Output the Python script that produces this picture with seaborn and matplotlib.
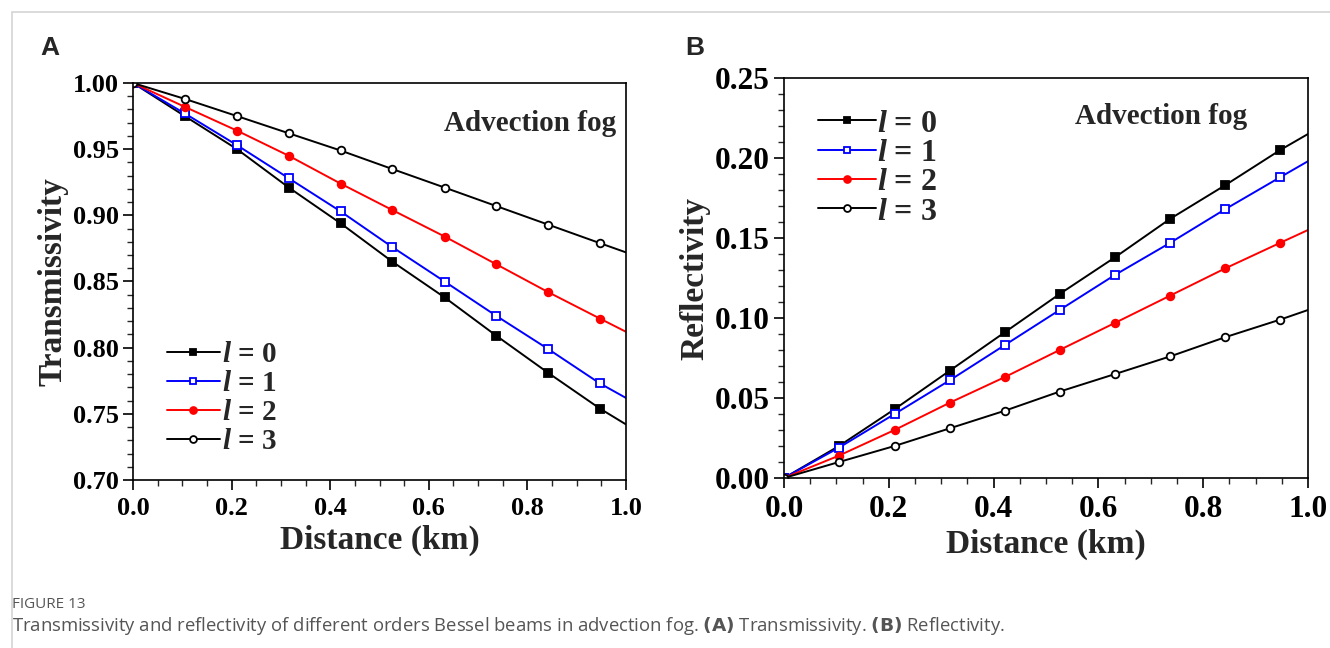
import matplotlib
matplotlib.use("Agg")
import matplotlib.pyplot as plt
from matplotlib.patches import Rectangle
from matplotlib.ticker import MultipleLocator, FormatStrFormatter
from matplotlib import font_manager
import seaborn as sns
import pandas as pd

sns.set_theme(style="white")
plt.rcParams["font.family"] = ["Liberation Serif", "DejaVu Serif"]
plt.rcParams["font.weight"] = "bold"
plt.rcParams["mathtext.fontset"] = "custom"
plt.rcParams["mathtext.it"] = "Liberation Serif:italic:bold"
plt.rcParams["mathtext.rm"] = "Liberation Serif:bold"

# Propagation distance (km); markers on every sample except the end point
distance = [0.0, 0.105, 0.211, 0.316, 0.421, 0.526, 0.632, 0.737, 0.842, 0.947, 1.0]
orders = ["0", "1", "2", "3"]

trans_l0 = [1.000, 0.975, 0.950, 0.921, 0.894, 0.865, 0.838, 0.809, 0.781, 0.754, 0.742]
trans_l1 = [1.000, 0.977, 0.953, 0.928, 0.903, 0.876, 0.850, 0.824, 0.799, 0.773, 0.762]
trans_l2 = [1.000, 0.982, 0.964, 0.945, 0.924, 0.904, 0.884, 0.863, 0.842, 0.822, 0.812]
trans_l3 = [1.000, 0.988, 0.975, 0.962, 0.949, 0.935, 0.921, 0.907, 0.893, 0.879, 0.872]

refl_l0 = [0.000, 0.020, 0.043, 0.067, 0.091, 0.115, 0.138, 0.162, 0.183, 0.205, 0.215]
refl_l1 = [0.000, 0.019, 0.040, 0.061, 0.083, 0.105, 0.127, 0.147, 0.168, 0.188, 0.198]
refl_l2 = [0.000, 0.014, 0.030, 0.047, 0.063, 0.080, 0.097, 0.114, 0.131, 0.147, 0.155]
refl_l3 = [0.000, 0.010, 0.020, 0.031, 0.042, 0.054, 0.065, 0.076, 0.088, 0.099, 0.105]

styles = [
    dict(color="black", marker="s", markerfacecolor="black"),
    dict(color="#0000ff", marker="s", markerfacecolor="white"),
    dict(color="#ff0000", marker="o", markerfacecolor="#ff0000"),
    dict(color="black", marker="o", markerfacecolor="white"),
]

installed = {f.name for f in font_manager.fontManager.ttflist}
caption_family = "Liberation Sans Narrow" if "Liberation Sans Narrow" in installed else "Open Sans"

fig = plt.figure(figsize=(13.3, 6.48), dpi=100)
fig.patch.set_facecolor("white")

# light frame around the figure
fig.patches.append(Rectangle((12 / 1330, -0.1), 1.2, 1.1 - 12 / 648,
                             transform=fig.transFigure, fill=False,
                             edgecolor="#d4d4d4", linewidth=1.2))

axA = fig.add_axes([133 / 1330, 1 - 480 / 648, 493 / 1330, 397 / 648])
axB = fig.add_axes([784 / 1330, 1 - 478 / 648, 524 / 1330, 400 / 648])


def draw_panel(ax, series, ylabel, ylim, ymajor, yfmt, ticksize, legsize, legspace,
               textpad, leg_anchor, text_xy):
    for order, values, st in zip(orders, series, styles):
        df = pd.DataFrame({"Distance": distance, "Value": values})
        sns.lineplot(data=df, x="Distance", y="Value", ax=ax, color=st["color"],
                     marker=st["marker"], markerfacecolor=st["markerfacecolor"],
                     markeredgecolor=st["color"], markeredgewidth=1.3,
                     markersize=5.5, linewidth=1.4, markevery=slice(0, 10),
                     label=rf"$l$ = {order}", sort=False)
    ax.set_xlim(0, 1.0)
    ax.set_ylim(*ylim)
    ax.xaxis.set_major_locator(MultipleLocator(0.2))
    ax.xaxis.set_minor_locator(MultipleLocator(0.05))
    ax.yaxis.set_major_locator(MultipleLocator(ymajor))
    ax.yaxis.set_minor_locator(MultipleLocator(0.01))
    ax.xaxis.set_major_formatter(FormatStrFormatter("%.1f"))
    ax.yaxis.set_major_formatter(FormatStrFormatter(yfmt))
    ax.tick_params(which="major", direction="out", length=7, width=1.2,
                   labelsize=ticksize, bottom=True, left=True, top=False, right=False,
                   colors="black", pad=3)
    ax.tick_params(which="minor", direction="out", length=4, width=1.0,
                   bottom=True, left=True, top=False, right=False)
    ax.tick_params(axis="x", which="major", pad=5)
    for lab in ax.get_xticklabels() + ax.get_yticklabels():
        lab.set_fontweight("bold")
    for sp in ax.spines.values():
        sp.set_visible(True)
        sp.set_color("black")
        sp.set_linewidth(1.2)
    ax.set_facecolor("white")
    ax.grid(False)
    ax.set_xlabel("Distance (km)", fontsize=24, fontweight="bold", labelpad=4)
    ax.set_ylabel(ylabel, fontsize=24, fontweight="bold", labelpad=3)
    ax.text(text_xy[0], text_xy[1], "Advection fog", transform=ax.transAxes,
            fontsize=21, fontweight="bold", ha="center", va="center")
    leg = ax.legend(loc="upper left", bbox_to_anchor=leg_anchor, frameon=False,
                    prop=dict(family="Liberation Serif", weight="bold", size=legsize),
                    handlelength=1.8, handletextpad=textpad, labelspacing=legspace,
                    borderpad=0, borderaxespad=0, markerscale=0.9)
    return leg


draw_panel(axA, [trans_l0, trans_l1, trans_l2, trans_l3], "Transmissivity",
           (0.70, 1.00), 0.05, "%.2f", 19, 21, 0.07, 0.1, (0.069, 0.35), (0.805, 0.897))
draw_panel(axB, [refl_l0, refl_l1, refl_l2, refl_l3], "Reflectivity",
           (0.0, 0.25), 0.05, "%.2f", 22.5, 23, 0.0, 0.05, (0.065, 0.922), (0.72, 0.905))

fig.text(40 / 1330, 1 - 48 / 648, "A", fontsize=19, fontweight="bold",
         family="Liberation Sans", va="center", ha="left")
fig.text(685 / 1330, 1 - 48 / 648, "B", fontsize=19, fontweight="bold",
         family="Liberation Sans", va="center", ha="left")

fig.text(12 / 1330, 1 - 605 / 648, "FIGURE 13", fontsize=11, fontweight="normal",
         family=caption_family, color="#555555", va="center", ha="left")
fig.text(12 / 1330, 1 - 626 / 648,
         "Transmissivity and reflectivity of different orders Bessel beams in advection fog. "
         "$\\bf{(A)}$ Transmissivity. $\\bf{(B)}$ Reflectivity.",
         fontsize=13.8 if caption_family != "Open Sans" else 13.3,
         fontweight="normal", family=caption_family, color="#555555",
         va="center", ha="left")

fig.savefig("out.png", dpi=100, facecolor="white")
